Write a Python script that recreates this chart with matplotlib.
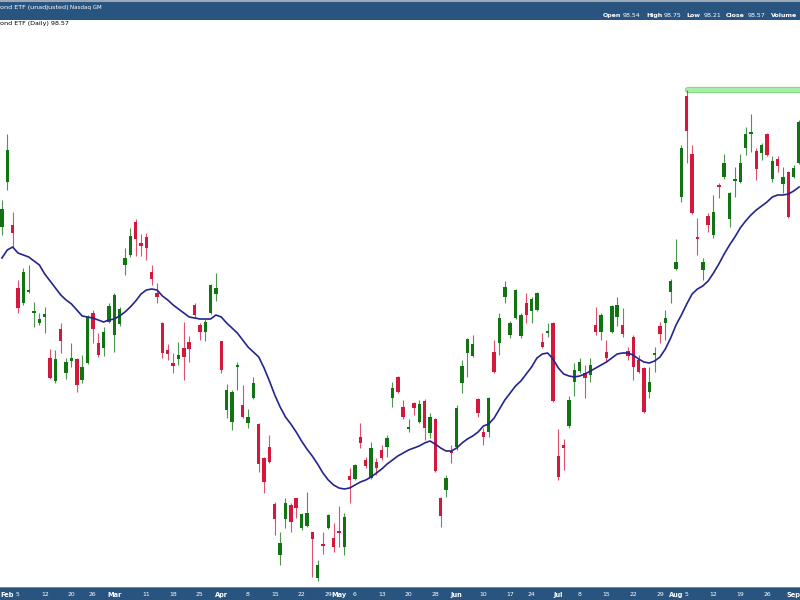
import numpy as np
import pandas as pd
import matplotlib.pyplot as plt

# trading days shown (Jan 31 .. Sep 4, 2024)
holidays = ["2024-02-19", "2024-03-29", "2024-05-27", "2024-06-19", "2024-07-04", "2024-09-02"]
dates = pd.bdate_range("2024-01-31", "2024-09-04", freq="C", holidays=holidays)

opens = [97.73, 98.18, 97.75, 97.12, 96.97, 97.08, 96.87, 96.77, 96.83, 96.42,
         96.19, 96.71, 96.27, 96.39, 96.41, 96.20, 96.37, 96.87, 96.57, 96.52,
         96.78, 96.65, 96.76, 97.35, 97.45, 97.78, 97.57, 97.63, 97.28, 97.07,
         96.77, 96.50, 96.37, 96.41, 96.52, 96.58, 96.95, 96.75, 96.68, 96.87,
         97.06, 96.59, 95.90, 95.78, 96.33, 95.95, 95.77, 96.02, 95.76, 95.42,
         95.53, 94.96, 94.45, 94.81, 94.95, 95.02, 94.72, 94.74, 94.68, 94.22,
         94.56, 94.72, 94.62, 94.69, 94.53, 95.24, 95.21, 95.63, 95.40, 95.22,
         95.38, 95.50, 95.53, 96.02, 96.23, 95.93, 95.71, 95.97, 95.78, 95.99,
         95.67, 95.81, 95.02, 95.10, 95.48, 95.53, 96.17, 96.47, 96.44, 96.01,
         95.68, 95.68, 96.48, 96.57, 97.03, 96.65, 96.82, 96.64, 96.97, 96.89,
         96.90, 96.58, 96.67, 96.77, 95.44, 95.55, 95.74, 96.18, 96.29, 96.27,
         96.25, 96.75, 96.68, 96.48, 96.68, 96.83, 96.75, 96.49, 96.63, 96.40,
         96.32, 96.08, 96.45, 96.74, 96.77, 97.08, 97.31, 98.03, 99.04, 98.46,
         97.63, 97.30, 97.84, 97.65, 98.14, 98.23, 97.81, 98.19, 98.18, 98.52,
         98.66, 98.49, 98.47, 98.66, 98.21, 98.41, 98.16, 98.28, 98.23, 98.37]
highs = [98.00, 98.66, 97.88, 97.20, 97.32, 97.35, 96.98, 96.87, 96.93, 96.51,
         96.50, 96.77, 96.42, 96.57, 96.42, 96.45, 96.85, 96.90, 96.67, 96.73,
         96.97, 97.07, 96.93, 97.52, 97.72, 97.81, 97.66, 97.67, 97.35, 97.17,
         96.78, 96.56, 96.47, 96.58, 96.78, 96.64, 96.97, 96.77, 96.81, 97.16,
         97.27, 96.59, 96.16, 96.10, 96.38, 96.15, 95.91, 96.23, 95.77, 95.43,
         95.65, 94.98, 94.68, 95.02, 94.97, 95.02, 94.87, 95.08, 94.68, 94.40,
         94.68, 94.86, 94.77, 94.94, 94.87, 95.32, 95.36, 95.77, 95.43, 95.58,
         95.42, 95.55, 95.65, 96.18, 96.24, 96.00, 95.81, 95.98, 96.00, 96.01,
         95.87, 95.82, 95.03, 95.25, 95.55, 95.95, 96.40, 96.62, 96.65, 96.02,
         95.72, 96.03, 96.60, 96.87, 97.19, 96.79, 97.11, 96.87, 97.07, 97.03,
         97.08, 96.67, 96.77, 96.78, 95.71, 95.61, 96.04, 96.37, 96.42, 96.35,
         96.42, 96.93, 96.87, 96.60, 96.95, 97.03, 96.92, 96.53, 96.65, 96.45,
         96.33, 96.33, 96.53, 96.78, 96.90, 97.21, 97.61, 98.55, 99.10, 98.55,
         97.82, 97.42, 97.87, 98.05, 98.17, 98.46, 98.08, 98.33, 98.46, 98.73,
         98.86, 98.52, 98.57, 98.67, 98.44, 98.44, 98.33, 98.29, 98.35, 98.80]
lows = [97.65, 98.10, 97.53, 96.87, 96.95, 97.07, 96.73, 96.75, 96.67, 96.21,
        96.17, 96.47, 96.21, 96.33, 96.08, 96.17, 96.36, 96.57, 96.43, 96.44,
        96.77, 96.48, 96.74, 97.25, 97.43, 97.44, 97.44, 97.40, 97.15, 96.97,
        96.42, 96.40, 96.27, 96.35, 96.20, 96.38, 96.82, 96.60, 96.59, 96.86,
        96.99, 96.27, 95.82, 95.70, 96.10, 95.82, 95.72, 96.01, 95.28, 95.07,
        95.37, 94.65, 94.35, 94.72, 94.68, 94.82, 94.70, 94.73, 94.23, 94.19,
        94.46, 94.71, 94.48, 94.53, 94.45, 94.97, 95.20, 95.52, 95.32, 95.21,
        95.25, 95.40, 95.43, 95.93, 96.07, 95.81, 95.68, 95.85, 95.77, 95.60,
        95.62, 95.28, 94.73, 95.03, 95.37, 95.50, 96.07, 96.23, 96.43, 95.83,
        95.55, 95.63, 96.27, 96.45, 96.97, 96.62, 96.81, 96.62, 96.77, 96.77,
        96.89, 96.52, 96.63, 95.98, 95.20, 95.30, 95.72, 96.04, 96.27, 96.02,
        96.18, 96.65, 96.60, 96.38, 96.67, 96.74, 96.63, 96.40, 96.20, 96.27,
        95.87, 96.02, 96.28, 96.57, 96.60, 96.97, 97.30, 97.98, 98.37, 97.86,
        97.45, 97.20, 97.68, 97.62, 98.02, 98.21, 97.73, 98.03, 98.17, 98.45,
        98.48, 98.20, 98.40, 98.44, 98.18, 98.28, 98.07, 97.82, 98.22, 98.36]
closes = [97.91, 98.50, 97.67, 96.92, 97.28, 97.10, 96.89, 96.81, 96.86, 96.22,
          96.41, 96.59, 96.38, 96.42, 96.15, 96.33, 96.83, 96.71, 96.45, 96.68,
          96.94, 97.05, 96.91, 97.42, 97.64, 97.61, 97.54, 97.52, 97.21, 97.03,
          96.47, 96.46, 96.34, 96.45, 96.43, 96.51, 96.85, 96.68, 96.78, 97.15,
          97.12, 96.30, 96.10, 96.08, 96.35, 95.83, 95.83, 96.17, 95.36, 95.18,
          95.38, 94.81, 94.57, 94.97, 94.78, 94.92, 94.86, 94.87, 94.61, 94.35,
          94.54, 94.85, 94.53, 94.67, 94.83, 95.20, 95.35, 95.57, 95.34, 95.52,
          95.32, 95.42, 95.62, 96.12, 96.08, 95.83, 95.72, 95.92, 95.96, 95.72,
          95.83, 95.29, 94.84, 95.22, 95.47, 95.92, 96.34, 96.61, 96.56, 95.87,
          95.63, 96.02, 96.28, 96.82, 97.13, 96.77, 97.10, 96.85, 96.85, 97.01,
          97.07, 96.53, 96.68, 95.99, 95.23, 95.52, 96.00, 96.30, 96.38, 96.22,
          96.35, 96.68, 96.85, 96.42, 96.94, 96.95, 96.66, 96.44, 96.33, 96.28,
          95.88, 96.18, 96.47, 96.66, 96.82, 97.19, 97.38, 98.52, 98.69, 97.87,
          97.61, 97.38, 97.75, 97.88, 98.13, 98.37, 98.07, 98.21, 98.37, 98.66,
          98.68, 98.31, 98.55, 98.45, 98.39, 98.34, 98.23, 97.83, 98.32, 98.78]
sma20 = [97.42, 97.50, 97.53, 97.47, 97.45, 97.43, 97.39, 97.35, 97.26, 97.19,
         97.12, 97.05, 97.00, 96.96, 96.90, 96.84, 96.83, 96.82, 96.80, 96.78,
         96.80, 96.81, 96.84, 96.88, 96.93, 96.99, 97.06, 97.10, 97.11, 97.10,
         97.04, 97.00, 96.95, 96.91, 96.87, 96.83, 96.82, 96.81, 96.81, 96.81,
         96.85, 96.83, 96.77, 96.72, 96.67, 96.60, 96.53, 96.48, 96.43, 96.32,
         96.19, 96.05, 95.93, 95.83, 95.76, 95.68, 95.59, 95.51, 95.44, 95.36,
         95.27, 95.20, 95.15, 95.12, 95.11, 95.12, 95.15, 95.18, 95.20, 95.23,
         95.27, 95.31, 95.36, 95.40, 95.44, 95.47, 95.50, 95.52, 95.54, 95.57,
         95.59, 95.56, 95.52, 95.49, 95.49, 95.52, 95.57, 95.61, 95.64, 95.68,
         95.74, 95.76, 95.82, 95.91, 96.00, 96.07, 96.14, 96.19, 96.26, 96.33,
         96.42, 96.46, 96.47, 96.41, 96.32, 96.26, 96.24, 96.23, 96.24, 96.26,
         96.29, 96.32, 96.35, 96.38, 96.42, 96.46, 96.47, 96.47, 96.45, 96.41,
         96.38, 96.37, 96.39, 96.43, 96.51, 96.62, 96.75, 96.85, 96.96, 97.06,
         97.11, 97.14, 97.19, 97.27, 97.36, 97.46, 97.55, 97.63, 97.72, 97.79,
         97.85, 97.90, 97.94, 97.98, 98.03, 98.05, 98.05, 98.06, 98.09, 98.13]

tick_dates = ["2024-02-01", "2024-02-05", "2024-02-12", "2024-02-20", "2024-02-26",
              "2024-03-01", "2024-03-11", "2024-03-18", "2024-03-25", "2024-04-01",
              "2024-04-08", "2024-04-15", "2024-04-22", "2024-04-29", "2024-05-01",
              "2024-05-06", "2024-05-13", "2024-05-20", "2024-05-28", "2024-06-03",
              "2024-06-10", "2024-06-17", "2024-06-24", "2024-07-01", "2024-07-08",
              "2024-07-15", "2024-07-22", "2024-07-29", "2024-08-01", "2024-08-05",
              "2024-08-12", "2024-08-19", "2024-08-26", "2024-09-03"]
tick_text = ["Feb", "5", "12", "20", "26", "Mar", "11", "18", "25", "Apr",
             "8", "15", "22", "29", "May", "6", "13", "20", "28", "Jun",
             "10", "17", "24", "Jul", "8", "15", "22", "29", "Aug", "5",
             "12", "19", "26", "Sep"]

GREEN = "#127312"
RED = "#D3173D"
NAVY = "#24248F"
BAR = "#28547F"

o = np.array(opens); h = np.array(highs); l = np.array(lows); c = np.array(closes)
x = np.arange(len(dates))
up = c >= o
cols = np.where(up, GREEN, RED)
xlim = (-0.36, 149.17)

fig = plt.figure(figsize=(8, 6), dpi=100)

ax = fig.add_axes([0, 13 / 600, 1, 567 / 600])
ax.vlines(x, l, h, colors=cols, lw=0.8, alpha=0.75, zorder=1)
ax.bar(x, np.maximum(np.abs(c - o), 0.015), bottom=np.minimum(o, c), width=0.64,
       color=cols, linewidth=0, zorder=2)
ax.plot(x, sma20, color=NAVY, lw=1.2, zorder=3)
# horizontal marker at the high
top = h.max()
ax.plot([x[h.argmax()] + 0.2, x[-1] + 5], [top, top], color="#7CD67C", lw=4.4,
        solid_capstyle="round", zorder=0)
ax.plot([x[h.argmax()] + 0.2, x[-1] + 5], [top, top], color="#A6EFA6", lw=3.2,
        solid_capstyle="round", zorder=0)
ax.set_xlim(*xlim)
ax.set_ylim(94.13, 99.80)
ax.set_axis_off()
ax.text(0.0, 99.76, "ond ETF (Daily) 98.57", fontsize=4.6, color="black",
        ha="left", va="center", transform=ax.get_yaxis_transform())

# header bar
hdr = fig.add_axes([0, 580 / 600, 1, 20 / 600])
hdr.set_facecolor(BAR)
hdr.set_xticks([]); hdr.set_yticks([])
for s in hdr.spines.values():
    s.set_visible(False)
hdr.axhline(1, color="#9AA8B8", lw=1.5)
hdr.set_xlim(0, 800); hdr.set_ylim(20, 0)
hdr.text(0, 7, "ond ETF (unadjusted)", color="white", fontsize=4.6, va="center")
hdr.text(70, 7.5, "Nasdaq GM", color="white", fontsize=4.0, va="center")
parts = [(603, "Open", "bold"), (623, "98.54", "normal"), (646, "High", "bold"),
         (664, "98.75", "normal"), (686, "Low", "bold"), (704, "98.21", "normal"),
         (726, "Close", "bold"), (748, "98.57", "normal"), (771, "Volume", "bold")]
for px, t, w in parts:
    hdr.text(px, 15.5, t, color="white", fontsize=4.5, fontweight=w, va="center")

# date axis bar
bot = fig.add_axes([0, 0, 1, 13 / 600])
bot.set_facecolor(BAR)
bot.set_xticks([]); bot.set_yticks([])
for s in bot.spines.values():
    s.set_visible(False)
bot.axhline(1, color="#7A98B8", lw=1.2)
bot.set_xlim(*xlim); bot.set_ylim(0, 1)
for d, t in zip(tick_dates, tick_text):
    xi = dates.get_loc(pd.Timestamp(d))
    bold = t.isalpha()
    bot.text(xi, 0.42, t, color="white", fontsize=4.8 if bold else 4.4,
             fontweight="bold" if bold else "normal", ha="center", va="center")

fig.savefig("out.png", dpi=100)
